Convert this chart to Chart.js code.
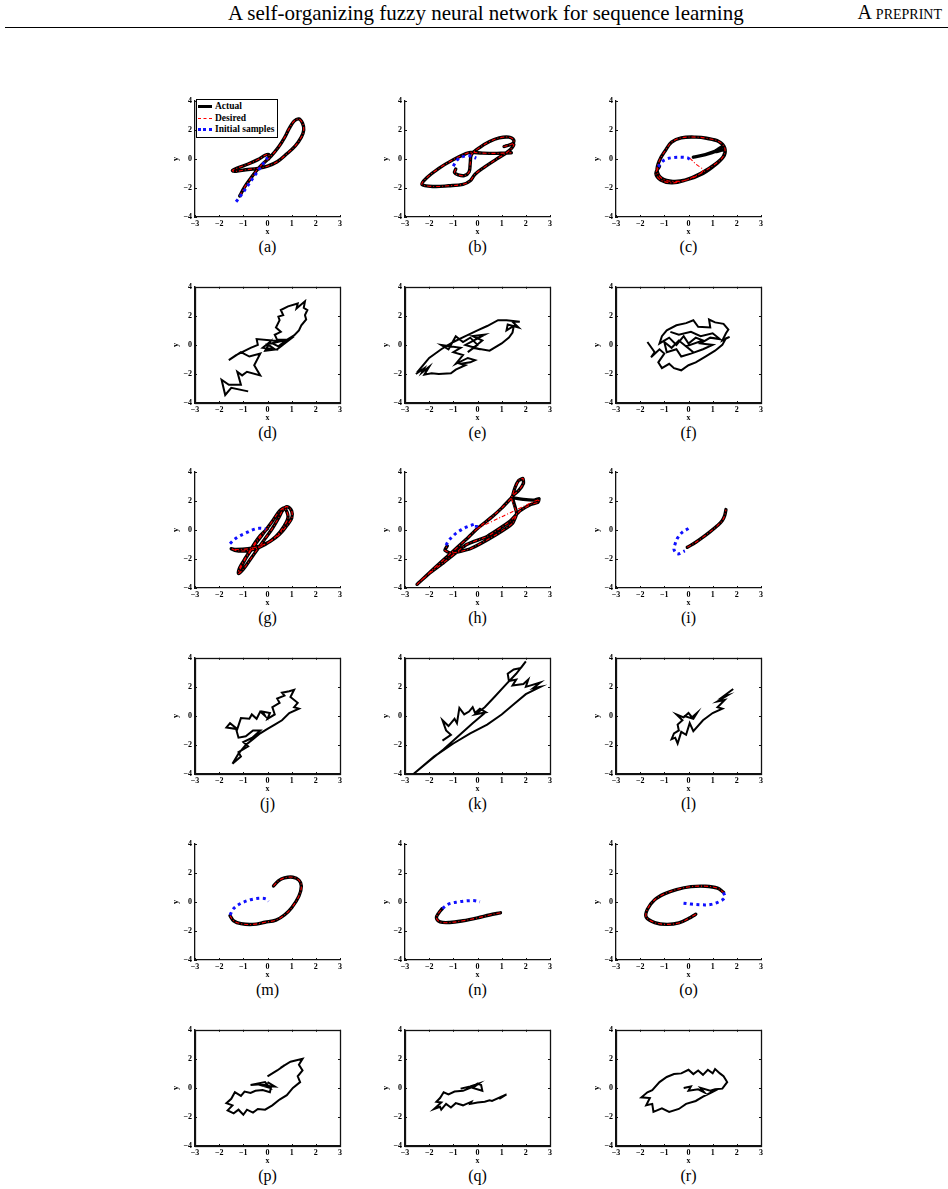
<!DOCTYPE html>
<html>
<head>
<meta charset="utf-8">
<script src="https://cdn.jsdelivr.net/npm/chart.js@4.4.0/dist/chart.umd.min.js"></script>
<style>
  body { margin: 0; background: #fff; font-family: 'Liberation Serif', 'DejaVu Serif', serif; }
  #page { position: relative; width: 948px; height: 1189px; overflow: hidden; }
  .head { position: absolute; top: 1px; color: #000; white-space: nowrap; }
  .rule { position: absolute; left: 5px; right: 0; top: 27px; height: 0; border-top: 1px solid #000; }
  canvas { position: absolute; }
  .cap { position: absolute; font-size: 16px; transform: translateX(-50%); white-space: nowrap; }
  .legend { position: absolute; border: 1px solid #000; background: #fff; padding: 1px 3px 1px 1px;
            font-size: 9.5px; font-weight: bold; line-height: 11.5px; }
  .legend div { white-space: nowrap; }
  .legend span { display: inline-block; width: 14px; margin-right: 3px; vertical-align: middle; }
</style>
</head>
<body>
<div id="page">
  <div class="head" style="left:228px; font-size:21px;">A self-organizing fuzzy neural network for sequence learning</div>
  <div class="head" style="right:6px; font-size:20px; font-variant: small-caps;">A preprint</div>
  <div class="rule"></div>
</div>
<script>
// ---- data (x, y pairs) ----
const actualA = [[-1.15,-2.55],[-0.95,-1.95],[-0.7,-1.35],[-0.45,-0.8],[-0.2,-0.35],[0.15,0.2],[0.45,0.8],[0.7,1.45],[0.9,2.1],[1.1,2.6],[1.3,2.75],[1.45,2.45],[1.5,2.0],[1.4,1.5],[1.15,0.9],[0.8,0.35],[0.4,-0.2],[0.0,-0.5],[-0.4,-0.65],[-0.9,-0.75],[-1.3,-0.85],[-1.45,-0.8],[-1.2,-0.6],[-0.8,-0.35],[-0.4,-0.05],[-0.1,0.25],[0.05,0.3],[0.05,0.0]];
const desiredA = actualA;
const initialA = [[-1.3,-2.95],[-1.05,-2.4],[-0.8,-1.8],[-0.55,-1.2],[-0.3,-0.6],[-0.1,-0.15],[0.0,0.1]];

const actualB = [[-0.9,-0.7],[-0.95,-0.95],[-0.8,-1.1],[-0.55,-1.15],[-0.35,-0.9],[-0.3,-0.3],[-0.25,0.3],[0.1,0.8],[0.5,1.2],[0.9,1.45],[1.3,1.5],[1.5,1.3],[1.45,1.05],[1.1,0.85],[1.5,1.0],[1.3,0.55],[0.8,0.0],[0.3,-0.55],[-0.1,-1.05],[-0.3,-1.5],[-0.6,-1.75],[-1.2,-1.85],[-1.8,-1.9],[-2.3,-1.75],[-2.1,-1.3],[-1.6,-0.65],[-1.0,-0.05],[-0.5,0.35],[-0.3,0.45],[0.2,0.4],[0.8,0.38],[1.4,0.42]];
const desiredB = actualB;
const initialB = [[-1.0,-0.5],[-0.9,-0.2],[-0.75,0.05],[-0.5,0.2],[-0.3,0.2],[-0.05,0.05]];

const actualC = [[0.2,0.12],[0.7,0.3],[1.15,0.55],[1.4,0.85],[1.1,0.5],[1.5,0.6],[1.45,0.15],[1.15,-0.35],[0.6,-1.0],[-0.1,-1.45],[-0.65,-1.55],[-1.1,-1.35],[-1.3,-0.8],[-1.2,-0.1],[-0.95,0.6],[-0.7,1.15],[-0.3,1.45],[0.3,1.5],[0.75,1.42],[1.25,1.2],[1.5,0.75],[1.45,0.2],[1.15,-0.3],[0.5,-1.0],[-0.2,-1.5],[-0.7,-1.65],[-1.15,-1.45],[-1.35,-1.0],[-1.2,-0.5]];
const desiredC = [[0.05,0.05],[0.3,-0.35],[0.6,-0.8],[0.1,-1.35],[-0.5,-1.55],[-1.05,-1.4],[-1.3,-0.85],[-1.2,-0.1],[-0.95,0.6],[-0.7,1.15],[-0.3,1.45],[0.3,1.5],[0.75,1.42],[1.25,1.2],[1.5,0.75],[1.45,0.2],[1.15,-0.3],[0.5,-1.0],[-0.2,-1.5],[-0.7,-1.65],[-1.15,-1.45],[-1.35,-1.0],[-1.2,-0.5]];
const initialC = [[-1.25,-0.55],[-1.1,-0.2],[-0.9,0.0],[-0.6,0.1],[-0.3,0.12],[-0.05,0.08],[0.05,-0.02]];

const outputD = [[-0.8,-3.2],[-1.5,-2.95],[-1.75,-3.45],[-1.9,-2.4],[-1.6,-2.75],[-1.1,-2.75],[-1.25,-1.85],[-1.05,-2.1],[-0.85,-1.85],[-0.3,-2.1],[-0.55,-1.4],[-0.3,-0.6],[-0.75,-0.8],[-1.1,-0.5],[-1.6,-1.05],[-1.3,-0.7],[-0.7,-0.2],[-0.4,0.0],[-0.45,0.4],[0.2,0.3],[0.55,0.25],[0.0,0.05],[0.3,-0.3],[-0.2,-0.2],[0.1,0.2],[-0.1,-0.4],[0.4,-0.3],[0.75,0.15],[1.1,0.6],[0.9,0.35],[0.4,0.35],[0.3,0.7],[0.55,0.9],[0.35,1.2],[0.5,1.7],[0.45,1.95],[0.65,2.05],[0.55,2.4],[0.85,2.65],[1.25,2.85],[1.2,2.5],[1.55,3.0],[1.5,2.55],[1.65,2.4],[1.55,2.05],[1.6,1.75],[1.4,1.35],[1.3,1.0],[1.1,0.65],[0.8,0.35],[0.45,-0.1],[0.2,0.1]];

const outputE = [[-2.55,-2.0],[-2.2,-1.6],[-2.3,-1.9],[-2.0,-1.5],[-2.2,-2.05],[-1.9,-1.95],[-1.6,-2.0],[-1.1,-1.95],[-0.9,-1.7],[-0.5,-1.4],[-0.7,-1.3],[-0.3,-1.2],[-0.1,-1.05],[-0.4,-0.9],[-0.9,-1.3],[-0.6,-0.7],[-1.0,-0.5],[-0.7,-0.2],[-1.5,0.0],[-1.2,-0.3],[-0.9,0.6],[-0.6,0.2],[-0.3,0.5],[0.0,0.0],[-0.4,-0.5],[0.2,0.3],[-0.2,0.6],[0.3,0.7],[-0.5,0.0],[0.1,-0.3],[-0.2,-0.2],[0.5,-0.4],[1.0,0.1],[1.3,0.5],[1.45,0.85],[1.5,1.3],[1.2,1.0],[1.25,1.4],[1.7,1.2],[1.45,1.6],[1.75,1.6],[1.2,1.7],[0.85,1.7],[0.4,1.3],[0.0,1.0],[-0.5,0.6],[-1.0,0.2],[-1.5,-0.3],[-2.0,-0.9],[-2.5,-1.9]];

const outputF = [[-1.7,0.2],[-1.4,-0.5],[-1.55,-0.85],[-1.2,-0.3],[-1.0,-0.6],[-1.25,-1.2],[-1.1,-1.6],[-0.8,-1.3],[-0.6,-1.6],[-0.3,-1.75],[0.0,-1.4],[0.3,-1.2],[0.7,-0.8],[1.1,-0.4],[1.4,0.0],[1.55,0.45],[1.7,0.55],[1.4,0.3],[1.55,0.8],[1.65,1.05],[1.45,1.45],[1.1,1.55],[0.85,1.75],[0.9,1.2],[0.4,1.25],[0.2,1.7],[-0.1,1.5],[-0.5,1.35],[-0.9,1.0],[-1.1,0.6],[-1.2,0.1],[-0.8,0.5],[-0.5,0.0],[-0.2,0.6],[0.0,0.1],[0.3,0.5],[0.6,0.3],[-0.1,-0.1],[0.2,-0.5],[-0.4,0.3],[-0.7,-0.2],[-1.0,0.2],[-0.9,-0.5],[-0.5,-0.3],[-0.3,-0.8],[0.1,-0.6],[0.6,-0.3],[1.0,0.0],[0.5,0.1],[0.9,0.5],[1.3,0.4],[1.0,0.8],[0.5,0.6],[0.1,0.9],[-0.4,0.7],[-0.75,0.9]];

const actualG = [[0.0,0.1],[-0.3,-0.4],[-0.6,-1.1],[-0.9,-1.9],[-1.15,-2.6],[-1.2,-3.0],[-1.0,-2.7],[-0.7,-2.0],[-0.4,-1.3],[-0.1,-0.6],[0.2,0.1],[0.45,0.8],[0.65,1.4],[0.8,1.6],[1.0,1.3],[1.0,0.8],[0.8,0.3],[0.5,-0.3],[0.1,-0.8],[-0.3,-1.1],[-0.8,-1.3],[-1.3,-1.35],[-1.5,-1.3],[-1.2,-1.45],[-0.6,-1.35],[-0.1,-1.0],[0.35,-0.45],[0.7,0.3],[0.85,0.9],[0.7,1.5],[0.5,1.3],[0.2,0.6],[-0.2,-0.3],[-0.6,-1.2],[-0.95,-2.1],[-1.2,-2.95]];
const desiredG = actualG;
const initialG = [[-1.55,-0.95],[-1.38,-0.67],[-1.18,-0.44],[-0.9,-0.22],[-0.62,0.0],[-0.35,0.11],[-0.07,0.07]];

const actualH = [[-1.25,-1.1],[-1.35,-1.4],[-1.1,-1.6],[-0.3,-1.3],[0.8,-0.3],[1.45,0.45],[1.62,1.15],[1.45,2.2],[1.55,2.9],[1.7,3.4],[1.88,3.55],[1.9,3.2],[1.7,2.7],[1.4,2.25],[1.9,2.1],[2.35,2.05],[2.55,2.15],[2.5,1.9],[2.2,1.75],[1.75,1.3],[1.35,0.6],[0.4,-0.45],[-0.45,-1.0],[-1.4,-2.25],[-2.0,-3.0],[-2.5,-3.75],[-1.8,-2.65],[-1.1,-1.6],[-0.5,-0.7],[0.0,0.1],[0.6,0.9],[1.0,1.5],[1.4,2.2]];
const desiredH = [[0.0,0.1],[1.1,0.98],[2.2,1.85],[2.55,2.1],[2.5,1.9],[2.2,1.75],[1.75,1.3],[1.35,0.6],[0.4,-0.45],[-0.45,-1.0],[-1.4,-2.25],[-2.0,-3.0],[-2.5,-3.75],[-1.8,-2.65],[-1.1,-1.6],[-0.5,-0.7],[0.0,0.1],[0.6,0.9],[1.0,1.5],[1.4,2.2],[1.55,2.9],[1.7,3.4],[1.88,3.55],[1.9,3.2],[1.7,2.7],[1.4,2.25],[1.62,1.15],[1.45,0.45],[0.8,-0.3],[-0.3,-1.3],[-1.1,-1.6],[-1.35,-1.4],[-1.25,-1.1]];
const initialH = [[-1.3,-1.05],[-1.2,-0.75],[-1.05,-0.48],[-0.88,-0.22],[-0.66,0.02],[-0.45,0.2],[-0.25,0.32],[-0.06,0.4],[-0.05,0.15]];

const actualI = [[-0.05,-1.2],[0.3,-0.85],[0.6,-0.5],[0.9,-0.12],[1.2,0.3],[1.4,0.65],[1.5,1.0],[1.55,1.4]];
const desiredI = actualI;
const initialI = [[0.0,0.1],[-0.25,-0.15],[-0.45,-0.55],[-0.55,-0.95],[-0.6,-1.35],[-0.45,-1.65],[-0.15,-1.45]];

const outputJ = [[-1.45,-3.3],[-1.1,-2.8],[-1.2,-2.5],[-0.8,-2.1],[-1.0,-1.8],[-0.5,-1.4],[-0.7,-1.6],[-0.3,-1.0],[-0.6,-1.0],[-0.9,-1.4],[-1.2,-1.5],[-1.3,-0.9],[-1.7,-0.8],[-1.55,-0.5],[-1.25,-0.9],[-1.1,-0.15],[-0.75,-0.2],[-0.65,0.1],[-0.45,-0.2],[-0.3,0.3],[-0.1,0.0],[-0.2,0.3],[0.1,0.2],[0.0,-0.2],[0.3,0.1],[0.2,0.6],[0.5,0.9],[0.4,1.2],[0.7,1.4],[0.6,1.6],[0.9,1.7],[1.1,1.8],[0.95,1.3],[1.25,0.9],[1.1,0.6],[1.3,0.5],[0.9,0.2],[0.6,-0.3],[0.3,-0.6],[0.0,-0.9],[-0.3,-1.2],[-0.6,-1.6],[-0.9,-2.0],[-1.2,-2.6],[-1.45,-3.3]];

const outputK = [[-1.45,-1.7],[-1.1,-1.3],[-1.3,-1.0],[-1.45,-0.3],[-1.2,-0.7],[-0.95,-0.2],[-0.85,-0.5],[-0.75,0.55],[-0.55,0.1],[-0.35,0.3],[-0.2,0.6],[-0.1,0.2],[0.1,0.5],[0.35,0.25],[-0.1,0.1],[0.3,0.6],[0.7,1.3],[1.2,2.2],[1.6,2.9],[2.0,3.75],[1.8,3.3],[1.5,3.2],[1.25,2.9],[1.3,2.4],[1.6,2.5],[1.45,2.1],[1.9,2.2],[2.1,2.5],[2.0,2.0],[2.6,2.3],[2.3,1.9],[2.6,2.0],[2.0,1.5],[1.5,0.8],[1.0,0.1],[0.4,-0.6],[-0.3,-1.2],[-1.0,-1.9],[-1.8,-2.8],[-2.65,-4.0],[-2.0,-3.1],[-1.4,-2.3],[-0.8,-1.4],[-0.2,-0.5],[0.3,0.2]];

const outputL = [[1.85,1.85],[1.4,1.3],[1.6,1.4],[1.2,1.0],[1.5,1.1],[1.2,0.6],[1.4,0.5],[1.0,0.2],[0.6,-0.3],[0.2,-1.05],[0.05,-0.5],[-0.1,-1.3],[-0.3,-1.1],[-0.45,-1.9],[-0.55,-1.5],[-0.7,-1.6],[-0.6,-1.2],[-0.4,-1.0],[-0.45,-0.6],[-0.25,-0.3],[-0.5,0.1],[-0.2,-0.1],[0.0,0.2],[0.15,-0.1],[0.35,0.2],[0.2,-0.2],[-0.2,0.0]];

const actualM = [[0.25,1.1],[0.45,1.45],[0.7,1.65],[1.05,1.7],[1.3,1.5],[1.4,1.1],[1.3,0.4],[1.0,-0.4],[0.7,-0.9],[0.35,-1.25],[-0.1,-1.4],[-0.6,-1.55],[-1.1,-1.5],[-1.4,-1.3],[-1.55,-0.95]];
const desiredM = actualM;
const initialM = [[-1.55,-0.9],[-1.4,-0.45],[-1.1,-0.1],[-0.7,0.15],[-0.3,0.25],[-0.05,0.2],[0.05,0.05]];

const actualN = [[0.95,-0.75],[0.5,-0.9],[0.0,-1.1],[-0.6,-1.3],[-1.15,-1.42],[-1.55,-1.38],[-1.7,-1.1],[-1.6,-0.75],[-1.45,-0.45]];
const desiredN = actualN;
const initialN = [[-1.45,-0.45],[-1.2,-0.15],[-0.8,0.0],[-0.4,0.08],[-0.1,0.08],[0.1,0.0]];

const actualO = [[0.3,-0.85],[0.0,-1.15],[-0.4,-1.45],[-0.9,-1.55],[-1.4,-1.42],[-1.75,-1.05],[-1.7,-0.5],[-1.4,0.15],[-1.0,0.55],[-0.5,0.85],[0.1,1.05],[0.7,1.08],[1.2,0.95],[1.45,0.65]];
const desiredO = actualO;
const initialO = [[1.45,0.65],[1.5,0.3],[1.25,0.0],[0.9,-0.18],[0.5,-0.2],[0.1,-0.15],[-0.25,-0.08]];

const outputP = [[0.0,0.8],[0.4,1.2],[0.7,1.55],[0.55,1.4],[0.95,1.8],[1.2,1.9],[1.45,2.0],[1.3,1.6],[1.45,1.2],[1.25,0.8],[1.35,0.4],[1.05,0.0],[0.8,-0.5],[0.5,-0.8],[0.2,-1.2],[-0.1,-1.5],[-0.4,-1.45],[-0.6,-1.7],[-0.85,-1.5],[-1.0,-1.85],[-1.2,-1.5],[-1.4,-1.75],[-1.65,-1.55],[-1.45,-1.2],[-1.7,-1.05],[-1.5,-0.75],[-1.35,-0.3],[-1.1,-0.55],[-0.95,-0.25],[-0.7,-0.35],[-0.5,-0.2],[-0.2,-0.15],[0.1,-0.3],[0.15,0.1],[-0.25,0.25],[-0.7,0.2],[-0.1,0.4],[0.1,0.0],[-0.2,0.15],[0.3,0.1],[0.0,0.4]];

const outputQ = [[1.2,-0.45],[0.9,-0.75],[1.0,-0.6],[0.6,-0.9],[0.5,-0.85],[0.3,-0.95],[0.0,-1.0],[-0.3,-1.1],[-0.25,-0.95],[-0.6,-1.2],[-0.9,-1.05],[-1.1,-1.35],[-1.3,-1.1],[-1.5,-1.5],[-1.55,-1.3],[-1.8,-1.45],[-1.5,-1.0],[-1.7,-0.95],[-1.55,-0.7],[-1.4,-0.3],[-1.2,-0.45],[-0.95,-0.25],[-0.6,-0.2],[-0.3,0.0],[0.0,0.3],[0.15,0.2],[0.2,-0.2],[-0.2,0.0],[0.05,0.3],[-0.3,0.1],[-0.7,-0.05]];

const outputR = [[-0.2,0.0],[0.1,0.1],[0.0,-0.2],[0.4,-0.1],[0.65,-0.3],[0.5,0.0],[0.9,-0.2],[1.1,-0.1],[1.4,-0.05],[1.6,0.4],[1.45,0.8],[1.3,1.0],[1.1,1.3],[1.0,1.0],[0.8,1.25],[0.6,0.9],[0.4,1.2],[0.2,0.95],[0.0,1.25],[-0.3,1.0],[-0.6,0.95],[-0.9,0.75],[-1.2,0.4],[-1.5,-0.15],[-1.7,-0.3],[-1.95,-0.65],[-1.6,-0.7],[-1.75,-1.2],[-1.5,-1.1],[-1.45,-1.65],[-1.1,-1.4],[-0.8,-1.65],[-0.4,-1.45],[-0.1,-1.1],[0.3,-0.9],[0.6,-0.6],[0.9,-0.35],[1.2,-0.1]];

const xTicks = [-3, -2, -1, 0, 1, 2, 3];
const yTicks = [-4, -2, 0, 2, 4];
const legendLabels = ['Actual', 'Desired', 'Initial samples'];

const panels = [
  { cap: '(a)', actual: actualA, desired: desiredA, initial: initialA, legend: true },
  { cap: '(b)', actual: actualB, desired: desiredB, initial: initialB },
  { cap: '(c)', actual: actualC, desired: desiredC, initial: initialC },
  { cap: '(d)', output: outputD },
  { cap: '(e)', output: outputE },
  { cap: '(f)', output: outputF },
  { cap: '(g)', actual: actualG, desired: desiredG, initial: initialG },
  { cap: '(h)', actual: actualH, desired: desiredH, initial: initialH, tension: 0.15 },
  { cap: '(i)', actual: actualI, desired: desiredI, initial: initialI },
  { cap: '(j)', output: outputJ },
  { cap: '(k)', output: outputK },
  { cap: '(l)', output: outputL },
  { cap: '(m)', actual: actualM, desired: desiredM, initial: initialM },
  { cap: '(n)', actual: actualN, desired: desiredN, initial: initialN },
  { cap: '(o)', actual: actualO, desired: desiredO, initial: initialO },
  { cap: '(p)', output: outputP },
  { cap: '(q)', output: outputQ },
  { cap: '(r)', output: outputR }
];

// ---- layout ----
const colLeft = [195, 405, 616];
const rowTop = [99, 285, 470, 656, 842, 1028];
const plotW = 145, plotH = 118;
const yAxisW = 26, xAxisH = 20, padT = 6, padR = 6;
const tickFont = { family: 'Liberation Serif', size: 8, weight: 'bold' };

const pts = arr => arr.map(p => ({ x: p[0], y: p[1] }));
const fmt = v => (v < 0 ? '\u2212' + Math.abs(v) : String(v));

// inward tick marks, plus a full box on the noisy panels
const matlabAxes = {
  id: 'matlabAxes',
  afterDraw(chart, args, opts) {
    const { ctx, chartArea: a, scales: { x, y } } = chart;
    ctx.save();
    ctx.strokeStyle = '#111';
    ctx.lineWidth = 1;
    ctx.beginPath();
    xTicks.forEach(v => {
      const px = Math.round(x.getPixelForValue(v)) + 0.5;
      ctx.moveTo(px, a.bottom); ctx.lineTo(px, a.bottom - 2);
      if (opts.boxed) { ctx.moveTo(px, a.top); ctx.lineTo(px, a.top + 2); }
    });
    yTicks.forEach(v => {
      const py = Math.round(y.getPixelForValue(v)) + 0.5;
      ctx.moveTo(a.left, py); ctx.lineTo(a.left + 2, py);
      if (opts.boxed) { ctx.moveTo(a.right, py); ctx.lineTo(a.right - 2, py); }
    });
    ctx.stroke();
    if (opts.boxed) {
      ctx.lineWidth = 1.3;
      ctx.strokeRect(Math.round(a.left) + 0.5, Math.round(a.top) + 0.5, Math.round(a.width), Math.round(a.height));
    }
    ctx.restore();
  }
};

const page = document.getElementById('page');

panels.forEach((p, i) => {
  const left = colLeft[i % 3];
  const top = rowTop[Math.floor(i / 3)];
  const canvas = document.createElement('canvas');
  canvas.width = yAxisW + plotW + padR;
  canvas.height = padT + plotH + xAxisH;
  canvas.style.left = (left - yAxisW) + 'px';
  canvas.style.top = (top - padT) + 'px';
  page.appendChild(canvas);

  const boxed = !!p.output;
  const datasets = [];
  if (boxed) {
    datasets.push({ label: 'Output', data: pts(p.output), borderColor: '#000', borderWidth: 2, tension: 0 });
  } else {
    const t = p.tension !== undefined ? p.tension : 0.35;
    datasets.push({ label: legendLabels[2], data: pts(p.initial), borderColor: '#1010ff', borderWidth: 3,
                    borderDash: [3, 3.5], tension: 0.35, order: 0 });
    datasets.push({ label: legendLabels[1], data: pts(p.desired), borderColor: '#ff0000', borderWidth: 1.1,
                    borderDash: [4, 2, 1, 2], tension: t, order: 1 });
    datasets.push({ label: legendLabels[0], data: pts(p.actual), borderColor: '#000', borderWidth: 3.4,
                    tension: t, order: 2, borderCapStyle: 'round', borderJoinStyle: 'round' });
  }
  datasets.forEach(d => { d.showLine = true; d.pointRadius = 0; d.fill = false; });

  new Chart(canvas, {
    type: 'scatter',
    data: { datasets },
    options: {
      responsive: false,
      animation: false,
      events: [],
      layout: { padding: { top: padT, right: padR, left: 0, bottom: 0 } },
      plugins: { legend: { display: false }, tooltip: { enabled: false }, matlabAxes: { boxed } },
      scales: {
        x: {
          type: 'linear', min: -3, max: 3,
          afterBuildTicks: s => { s.ticks = xTicks.map(v => ({ value: v })); },
          afterFit: s => { s.height = xAxisH; },
          ticks: { font: tickFont, color: '#000', padding: 2, maxRotation: 0, callback: fmt },
          grid: { display: false, drawTicks: false },
          border: { display: true, color: '#111', width: 1.3 },
          title: { display: true, text: 'x', font: tickFont, color: '#000', padding: { top: 0, bottom: 0 } }
        },
        y: {
          type: 'linear', min: -4, max: 4,
          afterBuildTicks: s => { s.ticks = yTicks.map(v => ({ value: v })); },
          afterFit: s => { s.width = yAxisW; },
          ticks: { font: tickFont, color: '#000', padding: 3, callback: fmt },
          grid: { display: false, drawTicks: false },
          border: { display: true, color: '#111', width: 1.3 },
          title: { display: true, text: 'y', font: tickFont, color: '#000', padding: { top: 2, bottom: 0 } }
        }
      }
    },
    plugins: [matlabAxes]
  });

  const cap = document.createElement('div');
  cap.className = 'cap';
  cap.textContent = p.cap;
  cap.style.left = (left + plotW / 2) + 'px';
  cap.style.top = (top + plotH + 21) + 'px';
  page.appendChild(cap);

  if (p.legend) {
    const lg = document.createElement('div');
    lg.className = 'legend';
    lg.style.left = (left + 1) + 'px';
    lg.style.top = (top) + 'px';
    const samples = ['border-top:3px solid #000', 'border-top:1px dashed #f00', 'border-top:3px dotted #1010ff'];
    legendLabels.forEach((txt, k) => {
      const row = document.createElement('div');
      const s = document.createElement('span');
      s.style.cssText = samples[k];
      row.appendChild(s);
      row.appendChild(document.createTextNode(txt));
      lg.appendChild(row);
    });
    page.appendChild(lg);
  }
});
</script>
</body>
</html>
